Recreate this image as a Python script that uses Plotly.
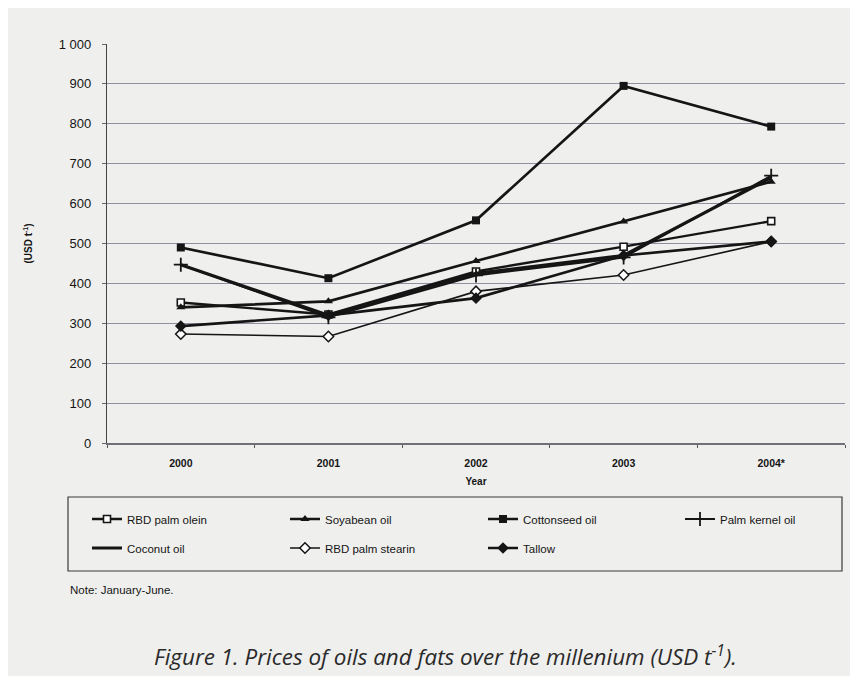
import plotly.graph_objects as go

years = ["2000", "2001", "2002", "2003", "2004*"]
rbd_palm_olein = [352, 322, 430, 492, 556]
soyabean_oil = [340, 355, 456, 555, 655]
cottonseed_oil = [490, 413, 558, 895, 793]
palm_kernel_oil = [447, 315, 420, 465, 670]
coconut_oil = [447, 320, 425, 470, 665]
rbd_palm_stearin = [273, 267, 380, 421, 505]
tallow = [293, 320, 363, 470, 505]

ytick_vals = [0, 100, 200, 300, 400, 500, 600, 700, 800, 900, 1000]
ytick_text = ["0", "100", "200", "300", "400", "500", "600", "700", "800", "900", "1 000"]

BG = "#efefed"
INK = "#151515"
FONT = "Liberation Sans, Arial, sans-serif"

OFF = 8  # page body margin offset in the screenshot
W, H = 858, 676
L, T = 107 - OFF, 44 - OFF
PLOT_RIGHT, PLOT_BOTTOM = 845 - OFF, 443 - OFF
R, B = W - PLOT_RIGHT, H - PLOT_BOTTOM
PW, PH = W - L - R, H - T - B

def px_x(screen_x):
    return (screen_x - OFF - L) / PW

def px_y(screen_y):
    return (PLOT_BOTTOM - (screen_y - OFF)) / PH

series = [
    ("RBD palm olein", rbd_palm_olein, dict(symbol="square", size=7, color="white", line=dict(color=INK, width=1.6)), 2.4, "legend"),
    ("Soyabean oil", soyabean_oil, dict(symbol="triangle-up", size=8, color=INK, line=dict(color=INK, width=0)), 2.7, "legend"),
    ("Cottonseed oil", cottonseed_oil, dict(symbol="square", size=8, color=INK, line=dict(color=INK, width=0)), 2.7, "legend"),
    ("Palm kernel oil", palm_kernel_oil, dict(symbol="cross-thin", size=10, color=INK, line=dict(color=INK, width=1.8)), 2.0, "legend3"),
    ("Coconut oil", coconut_oil, None, 3.2, "legend2"),
    ("RBD palm stearin", rbd_palm_stearin, dict(symbol="diamond", size=8, color="white", line=dict(color=INK, width=1.5)), 1.6, "legend2"),
    ("Tallow", tallow, dict(symbol="diamond", size=9, color=INK, line=dict(color=INK, width=0)), 2.7, "legend2"),
]

fig = go.Figure()
for name, vals, marker, lw, leg in series:
    kw = dict(x=years, y=vals, name=name, legend=leg,
              line=dict(color=INK, width=lw))
    if marker is None:
        kw["mode"] = "lines"
    else:
        kw["mode"] = "lines+markers"
        kw["marker"] = marker
    fig.add_trace(go.Scatter(**kw))

legend_common = dict(
    orientation="h", xanchor="left", yanchor="middle",
    bgcolor="rgba(0,0,0,0)", borderwidth=0,
    font=dict(family=FONT, size=11.5, color=INK),
    entrywidthmode="pixels",
    traceorder="normal",
)

fig.update_layout(
    width=W, height=H,
    margin=dict(l=L, r=R, t=T, b=B, autoexpand=False),
    paper_bgcolor=BG, plot_bgcolor=BG,
    font=dict(family=FONT, color=INK),
    showlegend=True,
    legend=dict(x=px_x(87), y=px_y(519), entrywidth=153, **legend_common),
    legend2=dict(x=px_x(87), y=px_y(548), entrywidth=153, **legend_common),
    legend3=dict(x=px_x(680), y=px_y(519), entrywidth=100, **legend_common),
    xaxis=dict(
        type="category",
        range=[-0.5, 4.5],
        showgrid=False,
        showline=True, linecolor="#6f6f78", linewidth=1.5,
        ticks="outside", tickson="boundaries", ticklen=3, tickcolor="#555",
        tickfont=dict(family=FONT, size=10.5, color=INK, weight="bold"),
        ticklabelstandoff=10,
        title=dict(text="Year", font=dict(family=FONT, size=10, color=INK, weight="bold"), standoff=10),
        zeroline=False,
    ),
    yaxis=dict(
        range=[0, 1000],
        tickvals=ytick_vals, ticktext=ytick_text,
        showgrid=True, gridcolor="#8f8fa3", gridwidth=1.4,
        showline=True, linecolor="#444", linewidth=1.2,
        ticks="outside", ticklen=4, tickcolor="#666",
        tickfont=dict(family=FONT, size=13, color=INK),
        ticklabelstandoff=8,
        title=dict(text="<b>(USD t<sup>-1</sup>)</b>", font=dict(family=FONT, size=10, color=INK), standoff=24),
        zeroline=False,
    ),
    shapes=[
        dict(type="rect", xref="paper", yref="paper",
             x0=px_x(68), x1=px_x(842), y0=px_y(497), y1=px_y(571),
             line=dict(color="#3a3a3a", width=1.2), fillcolor="rgba(0,0,0,0)", layer="above"),
    ],
    annotations=[
        dict(text="Note: January-June.", xref="paper", yref="paper",
             x=px_x(68), y=px_y(590), xanchor="left", yanchor="middle",
             showarrow=False, font=dict(family=FONT, size=11.5, color=INK)),
        dict(text="<i>Figure 1. Prices of oils and fats over the millenium (USD t<sup>-1</sup>).</i>",
             xref="paper", yref="paper",
             x=px_x(445), y=px_y(655), xanchor="center", yanchor="middle",
             showarrow=False, font=dict(family="Open Sans, sans-serif", size=22.4, color="#2a2a2a")),
    ],
)

fig.write_html("out.html")
